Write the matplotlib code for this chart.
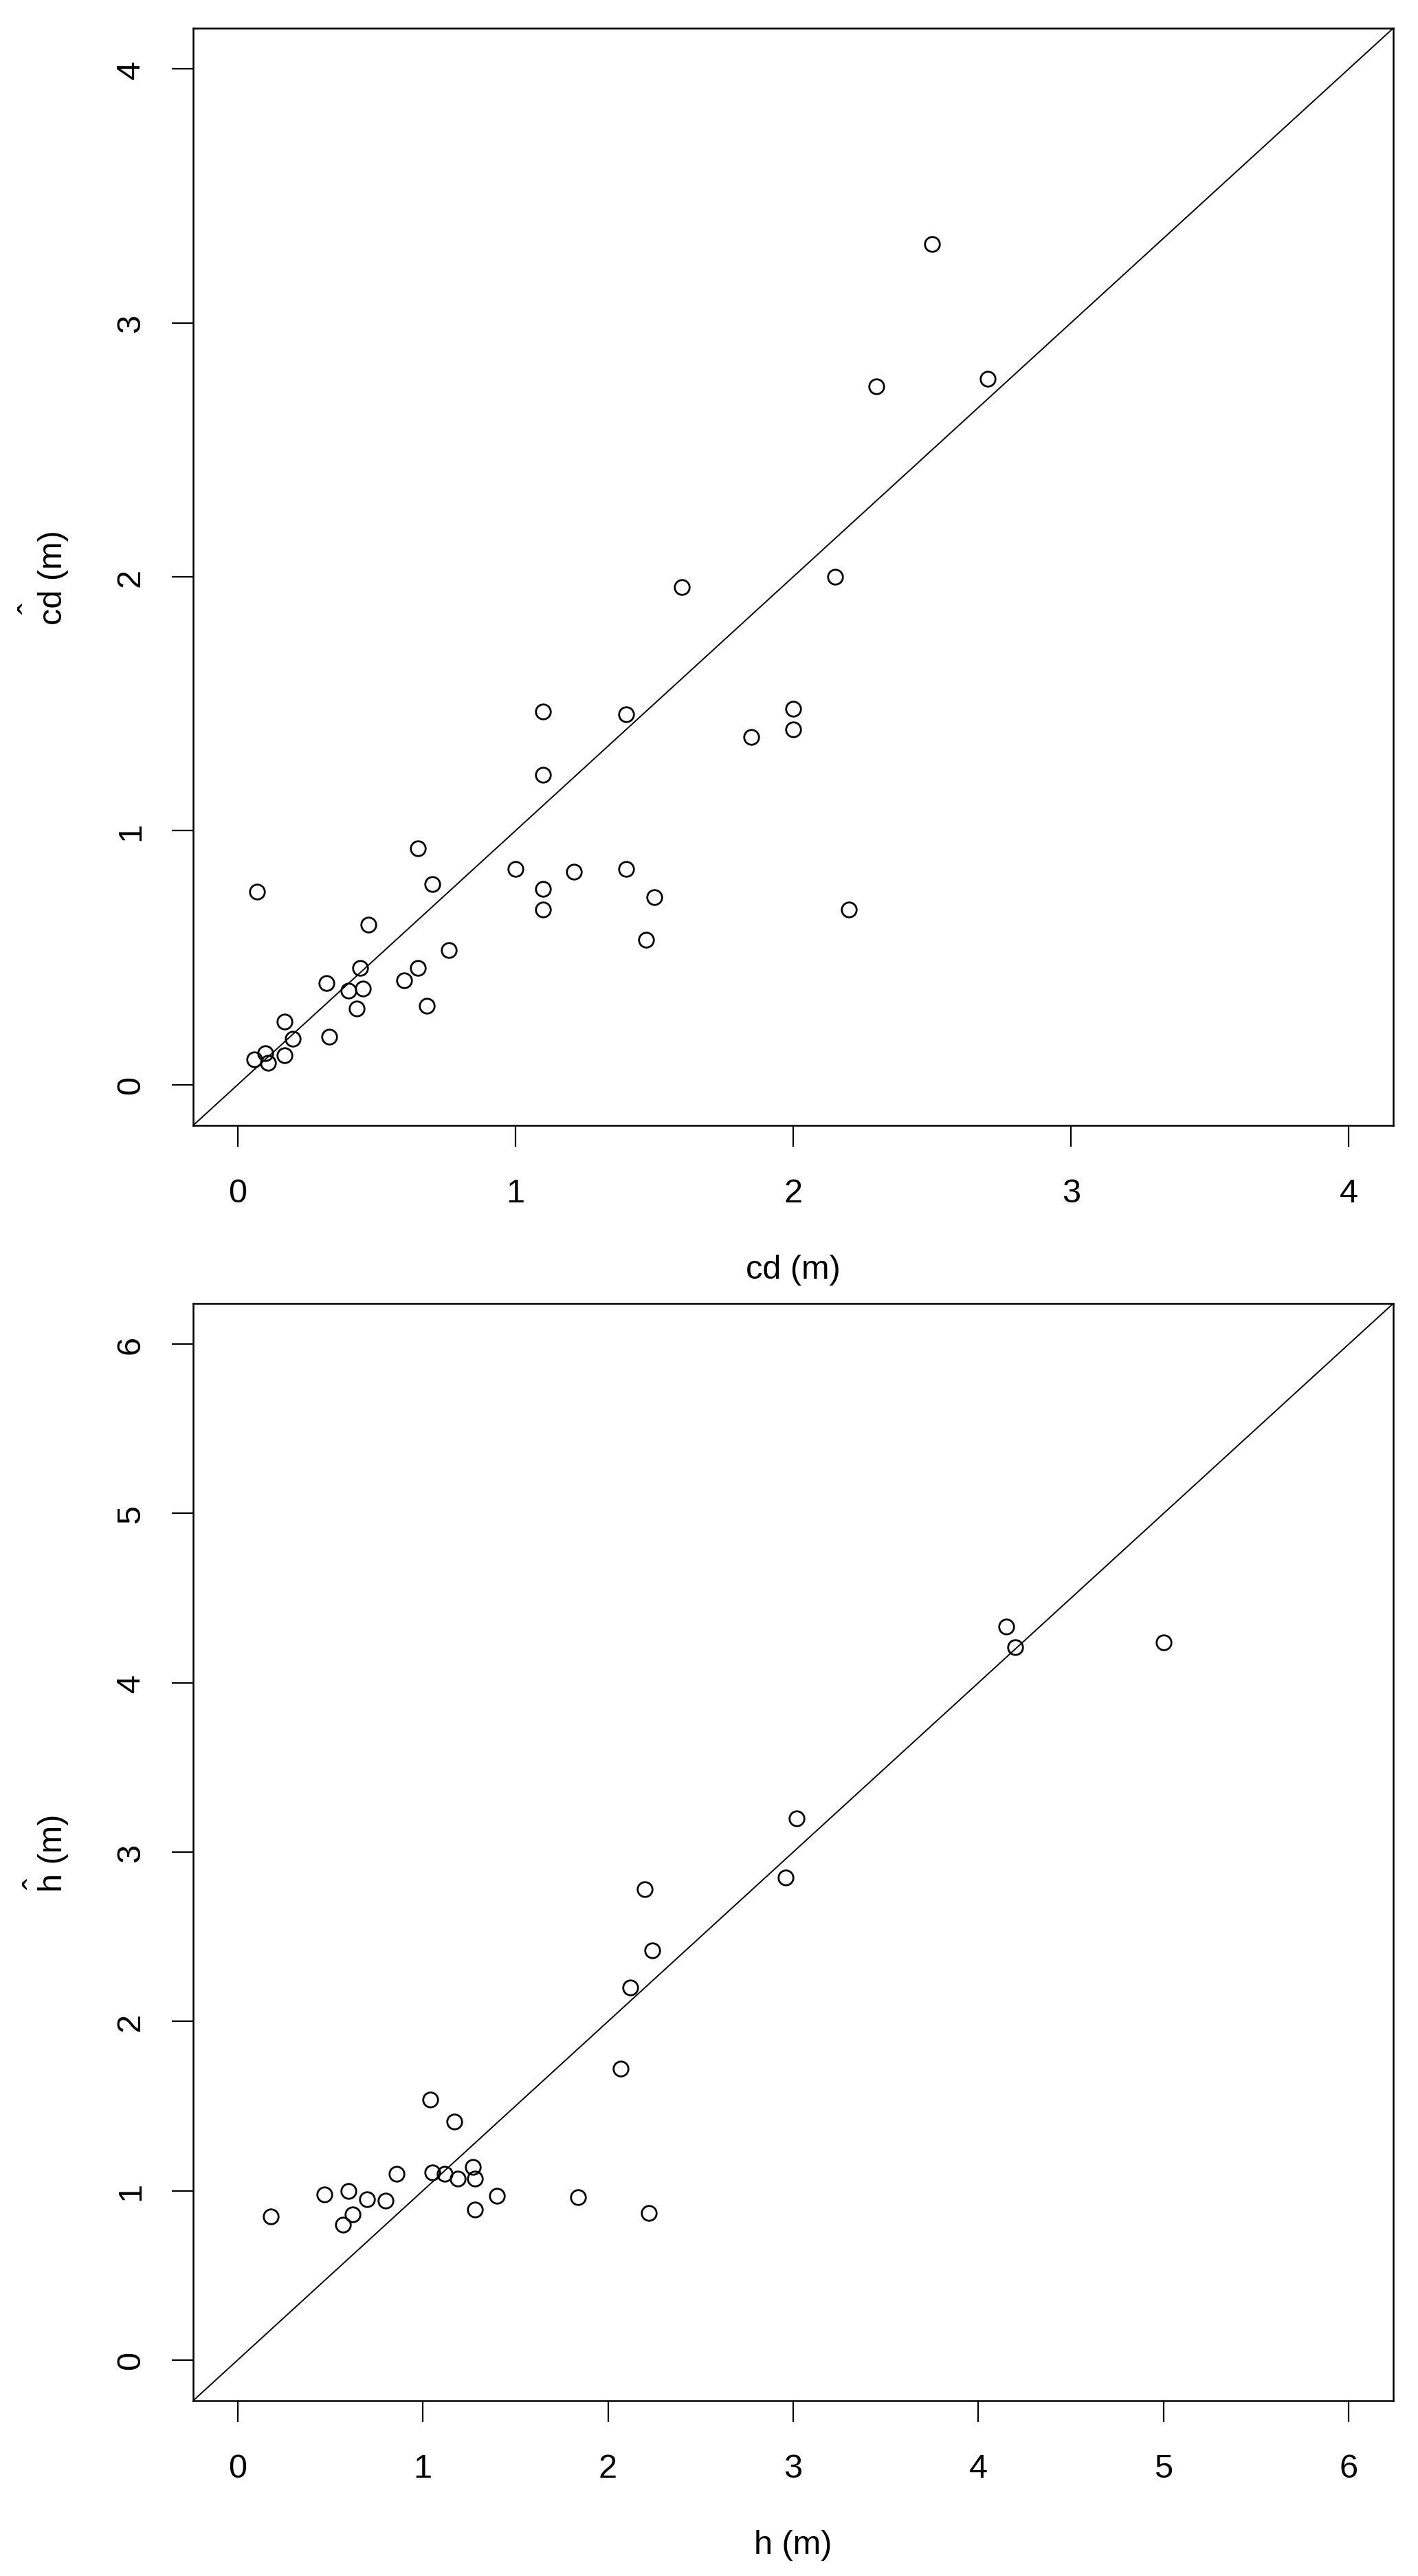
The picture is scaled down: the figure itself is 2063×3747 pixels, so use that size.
import numpy as np
import matplotlib
matplotlib.use('Agg')
import matplotlib.pyplot as plt

plt.rcParams['font.family'] = ['Liberation Sans', 'DejaVu Sans']

# crown diameter: observed vs predicted (m)
cd_obs = [2.50, 2.30, 2.70, 2.15, 1.60, 1.10, 1.40, 2.00, 2.00, 1.85,
          1.10, 0.65, 1.00, 1.21, 1.40, 0.70, 1.10, 1.50, 1.10, 2.20,
          0.07, 0.47, 0.76, 1.47, 0.44, 0.65, 0.60, 0.32, 0.40, 0.45,
          0.43, 0.68, 0.17, 0.33, 0.20, 0.06, 0.10, 0.11, 0.17]
cd_pred = [3.31, 2.75, 2.78, 2.00, 1.96, 1.47, 1.46, 1.48, 1.40, 1.37,
           1.22, 0.93, 0.85, 0.84, 0.85, 0.79, 0.77, 0.74, 0.69, 0.69,
           0.76, 0.63, 0.53, 0.57, 0.46, 0.46, 0.41, 0.40, 0.37, 0.38,
           0.30, 0.31, 0.25, 0.19, 0.18, 0.10, 0.125, 0.087, 0.117]

# height: observed vs predicted (m)
h_obs = [4.15, 4.20, 5.00, 3.02, 2.96, 2.20, 2.24, 2.12, 2.07, 1.04,
         1.17, 0.86, 1.05, 1.12, 1.19, 1.27, 1.28, 0.47, 0.60, 0.70,
         0.80, 1.40, 1.84, 0.18, 0.62, 0.57, 1.28, 2.22]
h_pred = [4.33, 4.21, 4.24, 3.20, 2.85, 2.78, 2.42, 2.20, 1.72, 1.54,
          1.41, 1.10, 1.11, 1.10, 1.07, 1.14, 1.07, 0.98, 1.00, 0.95,
          0.94, 0.97, 0.96, 0.85, 0.86, 0.80, 0.89, 0.87]

W, H = 2063, 3748
fig = plt.figure(figsize=(W / 100, H / 100), dpi=100)

# (x, y, axis max, x label, y label, axes bottom px, hat x in axes coords)
panels = [
    (cd_obs, cd_pred, 4, 'cd (m)', 'cd (m)', 3748 - 1638, -0.1329),
    (h_obs, h_pred, 6, 'h (m)', 'h (m)', 3748 - 3493, -0.1289),
]

for xs, ys, lim, xl, yl, bottom_px, hat_x in panels:
    ax = fig.add_axes([281 / W, bottom_px / H, 1746 / W, 1596 / H])
    ext = 0.04 * lim
    ax.set_xlim(-ext, lim + ext)
    ax.set_ylim(-ext, lim + ext)
    ax.plot([-ext, lim + ext], [-ext, lim + ext], color='black', lw=1.4)
    ax.plot(xs, ys, 'o', mfc='none', mec='black', ms=15.5, mew=2.0)
    ax.set_xticks(np.arange(0, lim + 1))
    ax.set_yticks(np.arange(0, lim + 1))
    ax.set_yticklabels([str(v) for v in range(lim + 1)], rotation=90, va='center')
    ax.tick_params(length=22, width=1.6, labelsize=35, pad=33)
    ax.tick_params(axis='y', pad=27)
    for s in ax.spines.values():
        s.set_linewidth(1.8)
    ax.set_xlabel(xl, fontsize=35)
    ax.set_ylabel(yl, fontsize=35)
    ax.xaxis.set_label_coords(0.5, -210 / 1596)
    ax.yaxis.set_label_coords(-203 / 1746, 0.5)
    ax.xaxis.label.set_va('center')
    ax.yaxis.label.set_va('center')
    # hat over the predicted-variable name
    ax.text(hat_x, 0.4718, '\u02c6', rotation=90, fontsize=35,
            ha='center', va='center', transform=ax.transAxes)

fig.savefig('out.png', dpi=100)
